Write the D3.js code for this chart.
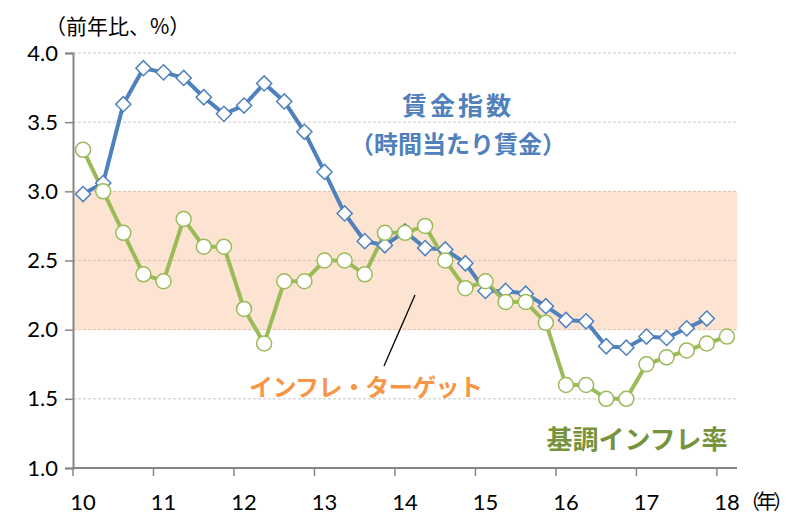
<!DOCTYPE html>
<html>
<head>
<meta charset="utf-8">
<script src="https://cdn.jsdelivr.net/npm/d3@7"></script>
<style>
  body { margin: 0; background: #fff; }
  svg { display: block; }
  .tick text { font-family: Lato, "Liberation Sans", sans-serif; }
</style>
</head>
<body>
<div id="chart"></div>
<script>
// quarters 2010Q1 .. 2018Q1
const quarters = d3.range(33).map(i => (10 + Math.floor(i / 4)) + "Q" + (i % 4 + 1));

// 賃金指数（時間当たり賃金）, 2010Q1 .. 2017Q4
const wage = [2.98, 3.06, 3.63, 3.89, 3.86, 3.82, 3.68, 3.56,
              3.62, 3.78, 3.65, 3.43, 3.14, 2.84, 2.64, 2.61,
              2.71, 2.59, 2.58, 2.48, 2.28, 2.28, 2.26, 2.17,
              2.07, 2.06, 1.88, 1.87, 1.95, 1.94, 2.01, 2.08];

// 基調インフレ率, 2010Q1 .. 2018Q1
const inflation = [3.3, 3.0, 2.7, 2.4, 2.35, 2.8, 2.6, 2.6,
                   2.15, 1.9, 2.35, 2.35, 2.5, 2.5, 2.4, 2.7,
                   2.7, 2.75, 2.5, 2.3, 2.35, 2.2, 2.2, 2.05,
                   1.6, 1.6, 1.5, 1.5, 1.75, 1.8, 1.85, 1.9, 1.95];

const yTicks = [1.0, 1.5, 2.0, 2.5, 3.0, 3.5, 4.0];
const yearLabels = ["10", "11", "12", "13", "14", "15", "16", "17", "18"];
const targetBand = [2.0, 3.0];

const WIDTH = 795, HEIGHT = 515;
const MARGINS = {left: 73, right: 58, top: 53, bottom: 47};

const svg = d3.select("#chart").append("svg")
    .attr("width", WIDTH)
    .attr("height", HEIGHT);

const x = d3.scaleBand()
    .domain(quarters)
    .range([MARGINS.left, WIDTH - MARGINS.right]);

const y = d3.scaleLinear()
    .domain([1.0, 4.0])
    .range([HEIGHT - MARGINS.bottom, MARGINS.top]);

const cx = i => x(quarters[i]) + x.bandwidth() / 2;

// target band
svg.append("rect")
    .attr("x", MARGINS.left)
    .attr("y", y(targetBand[1]))
    .attr("width", WIDTH - MARGINS.right - MARGINS.left)
    .attr("height", y(targetBand[0]) - y(targetBand[1]))
    .attr("fill", "#fde4d2");

// gridlines
svg.append("g")
  .selectAll("line")
  .data(yTicks.filter(d => d > 1))
  .enter()
  .append("line")
    .attr("x1", MARGINS.left)
    .attr("x2", WIDTH - MARGINS.right)
    .attr("y1", d => y(d))
    .attr("y2", d => y(d))
    .attr("stroke", d => (d >= targetBand[0] && d <= targetBand[1]) ? "#dcbfae" : "#c8c8c8")
    .attr("stroke-width", 1)
    .attr("stroke-dasharray", "3,2");

// y axis
const yAxis = svg.append("g")
    .attr("transform", "translate(" + MARGINS.left + ",0)")
    .call(d3.axisLeft(y).tickValues(yTicks).tickFormat(d3.format(".1f")).tickSizeOuter(0).tickSize(8).tickPadding(7));
yAxis.select(".domain").attr("stroke", "#868686").attr("stroke-width", 2);
yAxis.selectAll(".tick line").attr("stroke", "#868686").attr("stroke-width", 1.5);
yAxis.selectAll(".tick text").attr("font-size", "22px").attr("fill", "#000");

// x axis: ticks at year boundaries, labels under Q1
const yearIdx = d3.range(0, 33, 4);
const xAxis = svg.append("g")
    .attr("transform", "translate(0," + y(1.0) + ")");
xAxis.append("line")
    .attr("x1", MARGINS.left)
    .attr("x2", WIDTH - MARGINS.right)
    .attr("stroke", "#868686")
    .attr("stroke-width", 2);
xAxis.selectAll(".ytick")
  .data(yearIdx)
  .enter()
  .append("line")
    .attr("x1", d => x(quarters[d]))
    .attr("x2", d => x(quarters[d]))
    .attr("y1", 0)
    .attr("y2", 8)
    .attr("stroke", "#868686")
    .attr("stroke-width", 1.5);
xAxis.selectAll(".ylab")
  .data(yearIdx)
  .enter()
  .append("text")
    .attr("x", d => cx(d))
    .attr("y", 42)
    .attr("text-anchor", "middle")
    .attr("font-family", "Lato, 'Liberation Sans', sans-serif")
    .attr("font-size", "22px")
    .attr("fill", "#000")
    .text((d, i) => yearLabels[i]);
svg.append("text")
    .attr("x", 740)
    .attr("y", y(1.0) + 41)
    .attr("font-family", "'Noto Sans CJK JP', sans-serif")
    .attr("font-size", "20px")
    .attr("textLength", 53)
    .attr("lengthAdjust", "spacing")
    .attr("fill", "#000")
    .text("（年）");

svg.append("text")
    .attr("x", 45)
    .attr("y", 34)
    .attr("font-family", "'Noto Sans CJK JP', sans-serif")
    .attr("font-size", "21px")
    .attr("fill", "#000")
    .text("（前年比、%）");

// lines
const line = d3.line()
    .x((d, i) => cx(i))
    .y(d => y(d));

svg.append("path")
    .datum(wage)
    .attr("d", line)
    .attr("fill", "none")
    .attr("stroke", "#4f81bd")
    .attr("stroke-width", 4);

svg.append("path")
    .datum(inflation)
    .attr("d", line)
    .attr("fill", "none")
    .attr("stroke", "#9bbb59")
    .attr("stroke-width", 4);

// markers
svg.append("g")
  .selectAll("path")
  .data(wage)
  .enter()
  .append("path")
    .attr("d", d3.symbol(d3.symbolSquare, 115))
    .attr("transform", (d, i) => "translate(" + cx(i) + "," + y(d) + ") rotate(45)")
    .attr("fill", "#fff")
    .attr("stroke", "#4f81bd")
    .attr("stroke-width", 1.5);

svg.append("g")
  .selectAll("circle")
  .data(inflation)
  .enter()
  .append("circle")
    .attr("cx", (d, i) => cx(i))
    .attr("cy", d => y(d))
    .attr("r", 7.5)
    .attr("fill", "#fff")
    .attr("stroke", "#9bbb59")
    .attr("stroke-width", 1.5);

// annotations
svg.append("line")
    .attr("x1", 384).attr("y1", 366)
    .attr("x2", 415).attr("y2", 295)
    .attr("stroke", "#000")
    .attr("stroke-width", 1.3);

const jp = "'Noto Sans CJK JP', sans-serif";
svg.append("text")
    .attr("x", 458).attr("y", 115)
    .attr("text-anchor", "middle")
    .attr("font-family", jp).attr("font-weight", "bold")
    .attr("font-size", "25px").attr("letter-spacing", "3px")
    .attr("fill", "#4f81bd")
    .text("賃金指数");
svg.append("text")
    .attr("x", 458).attr("y", 153)
    .attr("text-anchor", "middle")
    .attr("font-family", jp).attr("font-weight", "bold")
    .attr("font-size", "24px")
    .attr("fill", "#4f81bd")
    .text("（時間当たり賃金）");
svg.append("text")
    .attr("x", 366).attr("y", 396)
    .attr("text-anchor", "middle")
    .attr("font-family", jp).attr("font-weight", "bold")
    .attr("font-size", "24px")
    .attr("textLength", 234)
    .attr("lengthAdjust", "spacing")
    .attr("fill", "#f79646")
    .text("インフレ・ターゲット");
svg.append("text")
    .attr("x", 637).attr("y", 449)
    .attr("text-anchor", "middle")
    .attr("font-family", jp).attr("font-weight", "bold")
    .attr("font-size", "26px")
    .attr("fill", "#77933c")
    .text("基調インフレ率");
</script>
</body>
</html>
